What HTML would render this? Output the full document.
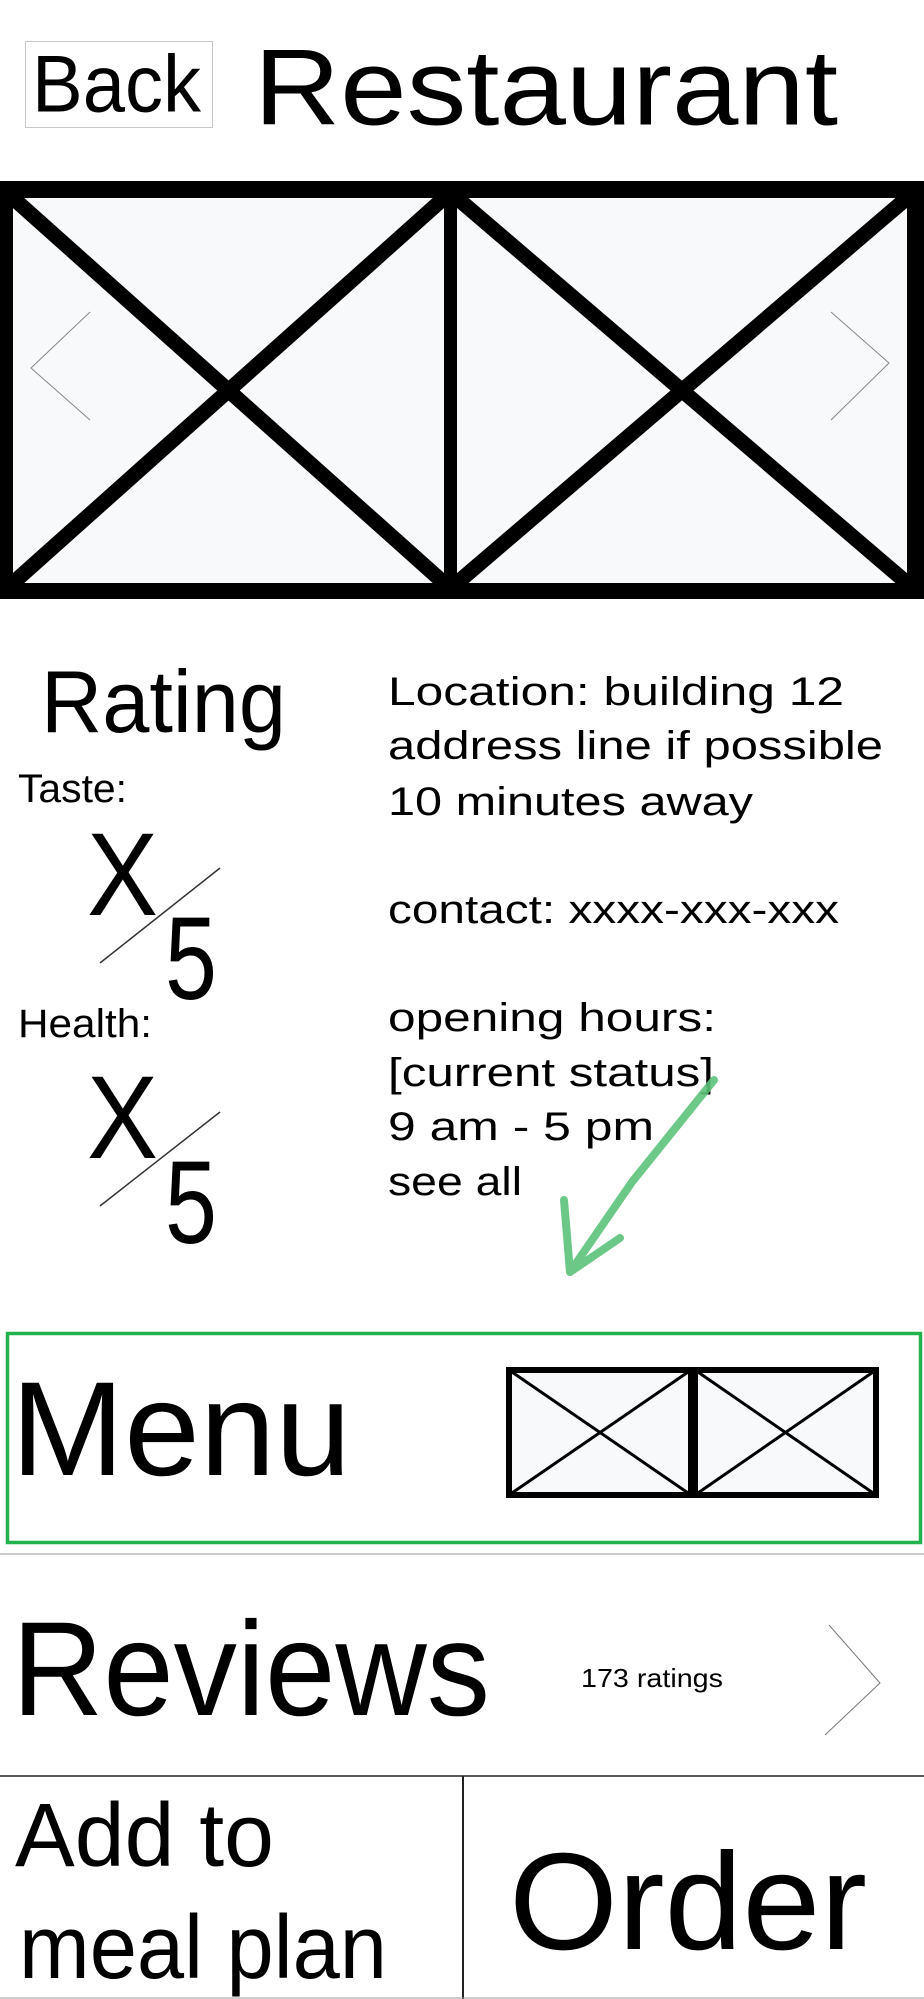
<!DOCTYPE html>
<html><head><meta charset="utf-8"><style>
html,body{margin:0;padding:0;background:#fff;}
svg{display:block;}
text{font-family:"Liberation Sans",sans-serif;fill:#000;}
</style></head><body>
<svg width="924" height="1999" viewBox="0 0 924 1999" xmlns="http://www.w3.org/2000/svg">
<g>
<rect x="25.5" y="41.5" width="187" height="86" fill="#fff" stroke="#c8c8c8" stroke-width="1"/>
<text x="32" y="111.5" font-size="81" textLength="169" lengthAdjust="spacingAndGlyphs">Back</text>
</g>
<text x="254" y="124.5" font-size="108" textLength="584" lengthAdjust="spacingAndGlyphs">Restaurant</text>

<g>
<rect x="0" y="181" width="924" height="418" fill="#000"/>
<rect x="13" y="198" width="431" height="385" fill="#f8f9fb"/>
<rect x="457" y="198" width="450" height="385" fill="#f8f9fb"/>
<g stroke="#000" stroke-width="15" stroke-linecap="butt">
<line x1="13" y1="198" x2="444" y2="583"/>
<line x1="444" y1="198" x2="13" y2="583"/>
<line x1="457" y1="198" x2="907" y2="583"/>
<line x1="907" y1="198" x2="457" y2="583"/>
</g>
<polyline points="90,312 31,368 90,420" fill="none" stroke="#888" stroke-width="1"/>
<polyline points="831,312 889,363 831,420" fill="none" stroke="#888" stroke-width="1"/>
</g>

<text x="41" y="732" font-size="88" textLength="245" lengthAdjust="spacingAndGlyphs">Rating</text>
<text x="18" y="802" font-size="40" textLength="109" lengthAdjust="spacingAndGlyphs">Taste:</text>
<g>
<text x="87" y="915" font-size="118" textLength="71" lengthAdjust="spacingAndGlyphs">X</text>
<text x="165" y="999" font-size="118" textLength="52" lengthAdjust="spacingAndGlyphs">5</text>
<line x1="220" y1="868" x2="100" y2="963" stroke="#333" stroke-width="1.5"/>
</g>
<text x="18" y="1037" font-size="40" textLength="134" lengthAdjust="spacingAndGlyphs">Health:</text>
<g>
<text x="87" y="1158" font-size="118" textLength="71" lengthAdjust="spacingAndGlyphs">X</text>
<text x="165" y="1243" font-size="118" textLength="52" lengthAdjust="spacingAndGlyphs">5</text>
<line x1="220" y1="1112" x2="100" y2="1206" stroke="#333" stroke-width="1.5"/>
</g>

<g font-size="40">
<text x="388" y="705" textLength="456" lengthAdjust="spacingAndGlyphs">Location: building 12</text>
<text x="388" y="759" textLength="495" lengthAdjust="spacingAndGlyphs">address line if possible</text>
<text x="388" y="815" textLength="365" lengthAdjust="spacingAndGlyphs">10 minutes away</text>
<text x="388" y="923" textLength="451" lengthAdjust="spacingAndGlyphs">contact: xxxx-xxx-xxx</text>
<text x="388" y="1031" textLength="328" lengthAdjust="spacingAndGlyphs">opening hours:</text>
<text x="388" y="1086" textLength="326" lengthAdjust="spacingAndGlyphs">[current status]</text>
<text x="388" y="1140" textLength="266" lengthAdjust="spacingAndGlyphs">9 am - 5 pm</text>
<text x="388" y="1195" textLength="134" lengthAdjust="spacingAndGlyphs">see all</text>
</g>

<g fill="none" stroke="#5cc37a" stroke-width="8" stroke-linecap="round" stroke-linejoin="round" opacity="0.9">
<polyline points="714,1080 632,1182 570,1272"/>
<polyline points="564,1200 570,1272 620,1238"/>
</g>

<g>
<rect x="7.5" y="1333.5" width="913" height="209" fill="none" stroke="#22b14c" stroke-width="3.5"/>
<text x="11" y="1475" font-size="134" textLength="340" lengthAdjust="spacingAndGlyphs">Menu</text>
<rect x="509" y="1370" width="182" height="125" fill="#f8f9fb" stroke="#000" stroke-width="6"/>
<rect x="695" y="1370" width="181" height="125" fill="#f8f9fb" stroke="#000" stroke-width="6"/>
<g stroke="#000" stroke-width="3">
<line x1="509" y1="1370" x2="691" y2="1495"/><line x1="691" y1="1370" x2="509" y2="1495"/>
<line x1="695" y1="1370" x2="876" y2="1495"/><line x1="876" y1="1370" x2="695" y2="1495"/>
</g>
</g>
<line x1="0" y1="1554" x2="924" y2="1554" stroke="#ccc" stroke-width="2"/>

<g>
<text x="12" y="1715" font-size="134" textLength="478" lengthAdjust="spacingAndGlyphs">Reviews</text>
<text x="581" y="1687" font-size="26" textLength="142" lengthAdjust="spacingAndGlyphs">173 ratings</text>
<polyline points="829,1625 880,1683 825,1735" fill="none" stroke="#777" stroke-width="1"/>
</g>
<line x1="0" y1="1776" x2="924" y2="1776" stroke="#222" stroke-width="1.5"/>
<line x1="463" y1="1776" x2="463" y2="1999" stroke="#222" stroke-width="2"/>

<g>
<text x="15" y="1866" font-size="90" textLength="259" lengthAdjust="spacingAndGlyphs">Add to</text>
<text x="19" y="1978" font-size="90" textLength="368" lengthAdjust="spacingAndGlyphs">meal plan</text>
</g>
<text x="509" y="1949" font-size="138" textLength="358" lengthAdjust="spacingAndGlyphs">Order</text>
<line x1="0" y1="1998" x2="924" y2="1998" stroke="#999" stroke-width="1"/>
</svg>
</body></html>
